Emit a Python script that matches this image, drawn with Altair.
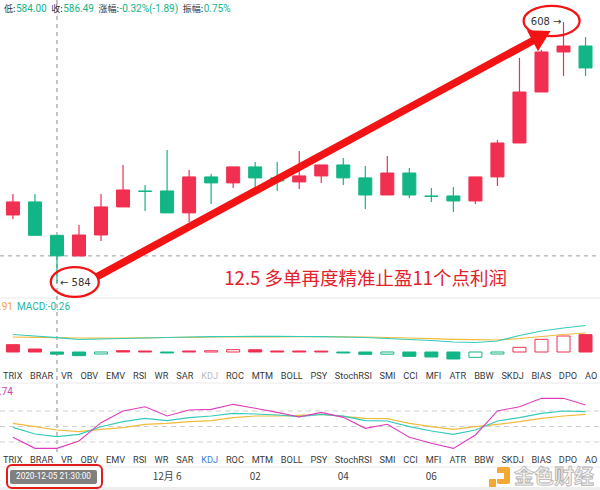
import altair as alt
import pandas as pd

# ---------------- data (30-minute candles, first bar 2020-12-05 20:30) ----------------
opens  = [590.25, 591.45, 588.38, 586.48, 588.41, 590.99, 592.46, 592.46, 590.44, 593.75,
          593.20, 594.67, 593.66, 593.29, 593.84, 594.85, 593.66, 592.09, 594.11, 592.00,
          592.00, 591.54, 593.75, 596.87, 601.56, 605.24, 605.79]
highs  = [592.18, 592.18, 588.41, 589.33, 592.18, 594.85, 593.01, 596.23, 594.39, 594.02,
          594.67, 595.13, 595.13, 596.14, 594.85, 595.49, 594.76, 595.68, 594.57, 592.74,
          592.83, 593.75, 597.15, 604.69, 605.43, 608.00, 606.62]
lows   = [589.89, 588.38, 584.00, 586.48, 587.86, 590.99, 590.62, 590.44, 589.61, 591.26,
          592.74, 592.83, 592.46, 592.64, 593.20, 593.01, 590.80, 592.09, 591.82, 591.45,
          590.53, 591.26, 592.92, 596.87, 601.56, 603.03, 603.03]
closes = [591.45, 588.38, 586.49, 588.41, 590.99, 592.55, 592.41, 590.44, 593.75, 593.20,
          594.67, 593.66, 593.38, 593.84, 594.85, 593.66, 592.09, 594.11, 592.09, 591.95,
          591.54, 593.75, 596.87, 601.56, 605.24, 605.79, 603.77]

macd_dif  = [2.10, 1.92, 1.72, 1.50, 1.56, 1.62, 1.68, 1.74, 1.80, 1.84, 1.86, 1.88, 1.88, 1.86,
             1.84, 1.80, 1.74, 1.62, 1.50, 1.38, 1.20, 1.14, 1.32, 1.98, 2.52, 2.88, 3.18]
macd_dea  = [1.80, 1.76, 1.72, 1.68, 1.66, 1.68, 1.70, 1.74, 1.76, 1.80, 1.80, 1.82, 1.82, 1.84,
             1.84, 1.82, 1.80, 1.74, 1.68, 1.60, 1.52, 1.48, 1.44, 1.62, 1.86, 2.10, 2.28]
macd_hist = [0.88, 0.36, -0.26, -0.44, -0.24, 0.16, 0.12, -0.12, 0.12, 0.15, 0.28, 0.27, 0.12,
             0.12, 0.11, -0.12, -0.28, -0.26, -0.52, -0.60, -0.84, -0.64, -0.24, 0.56, 1.52,
             1.92, 2.08]
macd_hist_hollow = [False, False, False, False, True, False, False, False, False, True, True,
                    False, False, False, False, False, False, True, False, False, False, True,
                    True, True, True, True, False]

kdj_k = [48.4, 35.5, 30.3, 34.9, 49.6, 59.3, 65.8, 61.3, 67.1, 70.3, 75.5, 74.2, 72.3, 69.0,
         73.5, 70.0, 61.3, 60.6, 49.6, 41.3, 34.9, 43.2, 60.6, 67.1, 75.5, 80.0, 78.7]
kdj_d = [56.1, 49.6, 43.2, 40.0, 44.5, 47.7, 54.2, 56.1, 59.3, 61.3, 67.1, 70.3, 70.3, 71.6,
         73.5, 69.5, 65.8, 65.1, 56.1, 49.6, 44.5, 49.6, 54.2, 59.3, 65.8, 70.3, 73.5]
kdj_j = [29.1, 7.7, 7.7, 21.9, 57.4, 80.0, 88.3, 70.3, 81.9, 83.2, 92.9, 85.2, 77.4, 68.4,
         77.4, 67.7, 46.5, 54.2, 29.1, 17.4, 7.7, 33.6, 80.0, 88.3, 104.5, 104.5, 91.6]

indicator_tabs = ["TRIX", "BRAR", "VR", "OBV", "EMV", "RSI", "WR", "SAR", "KDJ", "ROC", "MTM",
                  "BOLL", "PSY", "StochRSI", "SMI", "CCI", "MFI", "ATR", "BBW", "SKDJ", "BIAS",
                  "DPO", "AO"]
time_tick_index = [7, 11, 15, 19]
time_tick_label = ["12月 6", "02", "04", "06"]
crosshair_index = 2
crosshair_date = "2020-12-05 21:30:00"
header_labels = ["低:", "收:", "涨幅:", "振幅:"]
header_values = ["584.00", "586.49", "-0.32%(-1.89)", "0.75%"]
low_label, high_label = "← 584", "608 →"
annotation_text = "12.5 多单再度精准止盈11个点利润"

# ---------------- styling / layout ----------------
RED, GREEN = "#f12f50", "#12b585"
TEAL, YELLOW, MAGENTA = "#35cbbb", "#f2bb3c", "#e03cbe"
ANN = "#f21414"
CJK = "Noto Sans CJK SC"

X = alt.Scale(domain=[-0.36, 26.43], nice=False, zero=False)
PRICE = alt.Scale(domain=[582.8, 610.02], range=[296, 0], nice=False, zero=False)
MACD = alt.Scale(domain=[-3.72, 6.48], range=[383, 298], nice=False, zero=False)
KDJ = alt.Scale(domain=[-28.4, 134.2], range=[467, 383], nice=False, zero=False)

# Roboto advance widths (em) for laying out tab/header text
CW = {"A": .652, "B": .622, "C": .651, "D": .655, "E": .568, "F": .553, "I": .272, "J": .552,
      "K": .627, "L": .539, "M": .873, "O": .688, "P": .631, "R": .616, "S": .593, "T": .597,
      "V": .636, "W": .887, "X": .627, "Y": .601, "t": .327, "o": .570, "c": .523, "h": .552,
      "0": .562, "1": .562, "2": .562, "3": .562, "4": .562, "5": .562, "6": .562, "7": .562,
      "8": .562, "9": .562, ".": .263, "%": .732, "(": .342, ")": .348, "-": .276, ":": .242}


def tw(s):
    return sum(CW.get(ch, .56) for ch in s)


def xq(f="i"):
    return alt.X(f"{f}:Q", scale=X, axis=None)


def yq(f, s):
    return alt.Y(f"{f}:Q", scale=s, axis=None)


def px(f):
    return alt.X(f"{f}:Q", scale=None, axis=None)


def py(f):
    return alt.Y(f"{f}:Q", scale=None, axis=None)


one = pd.DataFrame({"a": [0]})
n = len(opens)
cdf = pd.DataFrame({"i": range(n), "o": opens, "h": highs, "l": lows, "c": closes})
cdf["col"] = [RED if c > o else GREEN for o, c in zip(opens, closes)]

layers = []

# separators
sep = pd.DataFrame({"y": [298, 383, 467]})
layers.append(alt.Chart(sep).mark_rule(color="#e9e9e9", strokeWidth=1).encode(
    y=py("y"), x=alt.value(0), x2=alt.value(600)))
layers.append(alt.Chart(one).mark_rect(color="#eeeeee").encode(
    x=alt.value(0), x2=alt.value(600), y=alt.value(487), y2=alt.value(490)))

# crosshair
layers.append(alt.Chart(pd.DataFrame({"p": [closes[crosshair_index]]})).mark_rule(
    color="#999999", strokeDash=[4, 4], strokeWidth=1).encode(
    y=yq("p", PRICE), x=alt.value(0), x2=alt.value(600)))
layers.append(alt.Chart(pd.DataFrame({"i": [crosshair_index]})).mark_rule(
    color="#888888", strokeDash=[4, 4], strokeWidth=1).encode(
    x=xq(), y=alt.value(0), y2=alt.value(452)))

# candles
layers.append(alt.Chart(cdf).mark_rule(strokeWidth=1.2).encode(
    x=xq(), y=yq("l", PRICE), y2="h:Q", color=alt.Color("col:N", scale=None)))
layers.append(alt.Chart(cdf).mark_bar(size=13, strokeWidth=1).encode(
    x=xq(), y=yq("o", PRICE), y2="c:Q",
    fill=alt.Fill("col:N", scale=None), stroke=alt.Stroke("col:N", scale=None)))

# header line: label (CJK, grey) followed by value (green)
hrows, cur = [], 4.0
LAB_FS, VAL_FS = 9.0, 10.0
for lab, val in zip(header_labels, header_values):
    hrows.append({"x": cur, "t": lab, "col": "#333333", "f": CJK, "fs": LAB_FS})
    cur += (len(lab) - 1) * LAB_FS + 3.0
    hrows.append({"x": cur, "t": val, "col": GREEN, "f": "Roboto", "fs": VAL_FS})
    cur += tw(val) * VAL_FS + 4.5
hdf = pd.DataFrame(hrows)
for f, fs in [(CJK, LAB_FS), ("Roboto", VAL_FS)]:
    layers.append(alt.Chart(hdf[hdf["f"] == f]).mark_text(
        align="left", baseline="middle", font=f, fontSize=fs).encode(
        x=px("x"), y=alt.value(9), text="t:N", color=alt.Color("col:N", scale=None)))

# low/high labels
layers.append(alt.Chart(pd.DataFrame({"i": [crosshair_index], "p": [min(lows)], "t": [low_label]})).mark_text(
    align="left", baseline="middle", dx=3, fontSize=10, font="DejaVu Sans", color="#333333").encode(
    x=xq(), y=yq("p", PRICE), text="t:N"))
hi_i = highs.index(max(highs))
layers.append(alt.Chart(pd.DataFrame({"i": [hi_i], "p": [max(highs)], "t": [high_label]})).mark_text(
    align="right", baseline="middle", dx=-2, fontSize=10, font="DejaVu Sans", color="#333333").encode(
    x=xq(), y=yq("p", PRICE), text="t:N"))

# annotation: ellipses, arrow, text
layers.append(alt.Chart(pd.DataFrame({"i": [2.81], "p": [584.09]})).mark_point(
    shape="M -1 0 A 1 0.62 0 1 1 1 0 A 1 0.62 0 1 1 -1 0 Z", size=2304, filled=False,
    stroke=ANN, strokeWidth=2.3, opacity=1).encode(x=xq(), y=yq("p", PRICE)))
layers.append(alt.Chart(pd.DataFrame({"i": [24.46], "p": [608.09]})).mark_point(
    shape="M -1 0 A 1 0.54 0 1 1 1 0 A 1 0.54 0 1 1 -1 0 Z", size=3136, filled=False,
    stroke=ANN, strokeWidth=2.3, opacity=1).encode(x=xq(), y=yq("p", PRICE)))
layers.append(alt.Chart(pd.DataFrame({"i": [3.79], "p": [584.55], "i2": [23.9], "p2": [606.6]})).mark_rule(
    color=ANN, strokeWidth=7.5, strokeCap="butt").encode(
    x=xq(), y=yq("p", PRICE), x2="i2:Q", y2="p2:Q"))
layers.append(alt.Chart(pd.DataFrame({"i": [24.0], "p": [606.72]})).mark_point(
    shape="triangle-up", size=560, filled=True, color=ANN, opacity=1, angle=62).encode(
    x=xq(), y=yq("p", PRICE)))
layers.append(alt.Chart(pd.DataFrame({"i": [9.6], "p": [584.37], "t": [annotation_text]})).mark_text(
    align="left", baseline="middle", font=CJK, fontSize=18.5, color="#e3222a").encode(
    x=xq(), y=yq("p", PRICE), text="t:N"))

# MACD panel
mdf = pd.DataFrame({"i": range(n), "h": macd_hist, "z": [0] * n, "dif": macd_dif, "dea": macd_dea})
mdf["st"] = [RED if v > 0 else GREEN for v in macd_hist]
mdf["fl"] = ["#ffffff" if hol else s for hol, s in zip(macd_hist_hollow, mdf["st"])]
layers.append(alt.Chart(mdf).mark_bar(size=13, strokeWidth=1).encode(
    x=xq(), y=yq("h", MACD), y2="z:Q",
    fill=alt.Fill("fl:N", scale=None), stroke=alt.Stroke("st:N", scale=None)))
layers.append(alt.Chart(mdf).mark_line(color=YELLOW, strokeWidth=1.2).encode(x=xq(), y=yq("dea", MACD)))
layers.append(alt.Chart(mdf).mark_line(color=TEAL, strokeWidth=1.2).encode(x=xq(), y=yq("dif", MACD)))
mh = pd.DataFrame({"x": [-1, 17], "t": [".91", "MACD:-0.26"], "col": ["#f0a23a", "#22b89f"]})
layers.append(alt.Chart(mh).mark_text(align="left", baseline="middle", fontSize=10, font="Roboto").encode(
    x=px("x"), y=alt.value(307), text="t:N", color=alt.Color("col:N", scale=None)))

# KDJ panel
layers.append(alt.Chart(pd.DataFrame({"v": [20, 50, 80]})).mark_rule(
    color="#cfcfcf", strokeDash=[5, 4], strokeWidth=1).encode(
    y=yq("v", KDJ), x=alt.value(0), x2=alt.value(600)))
kdf = pd.DataFrame({"i": range(n), "k": kdj_k, "d": kdj_d, "j": kdj_j})
layers.append(alt.Chart(kdf).mark_line(color=YELLOW, strokeWidth=1.2).encode(x=xq(), y=yq("d", KDJ)))
layers.append(alt.Chart(kdf).mark_line(color=TEAL, strokeWidth=1.2).encode(x=xq(), y=yq("k", KDJ)))
layers.append(alt.Chart(kdf).mark_line(color=MAGENTA, strokeWidth=1.1).encode(x=xq(), y=yq("j", KDJ)))
layers.append(alt.Chart(pd.DataFrame({"t": [".74"]})).mark_text(
    align="left", baseline="middle", fontSize=10, font="Roboto", color="#d93ab5").encode(
    x=alt.value(-1), y=alt.value(392), text="t:N"))

# indicator tab rows
em = 8.85
widths = [tw(s) * em for s in indicator_tabs]
gap = (597 - 3.3 - sum(widths)) / (len(indicator_tabs) - 1)
centers, cur = [], 3.3
for w in widths:
    centers.append(cur + w / 2)
    cur += w + gap
rows = []
for yy, kdj_col in [(376, "#bbbbbb"), (460, "#3d7fd8")]:
    for s, cx in zip(indicator_tabs, centers):
        rows.append({"x": cx, "y": yy, "t": s, "col": kdj_col if s == "KDJ" else "#3a3a3a"})
layers.append(alt.Chart(pd.DataFrame(rows)).mark_text(
    align="center", baseline="middle", fontSize=9.2, font="Roboto").encode(
    x=px("x"), y=py("y"), text="t:N", color=alt.Color("col:N", scale=None)))

# time row
layers.append(alt.Chart(one).mark_rect(color="#808080", cornerRadius=2).encode(
    x=alt.value(10), x2=alt.value(97), y=alt.value(470), y2=alt.value(484)))
layers.append(alt.Chart(pd.DataFrame({"t": [crosshair_date]})).mark_text(
    align="center", baseline="middle", fontSize=8.2, font="Roboto", color="#ffffff").encode(
    x=alt.value(53.5), y=alt.value(477), text="t:N"))
layers.append(alt.Chart(one).mark_rect(fillOpacity=0, stroke="#e01c1c", strokeWidth=2, cornerRadius=5).encode(
    x=alt.value(7), x2=alt.value(102), y=alt.value(465), y2=alt.value(488)))
layers.append(alt.Chart(pd.DataFrame({"i": time_tick_index, "t": time_tick_label})).mark_text(
    align="center", baseline="middle", fontSize=10, font=CJK, color="#444444").encode(
    x=xq(), y=alt.value(477), text="t:N"))

# watermark
layers.append(alt.Chart(one).mark_rect(color="#f2a833", cornerRadius=2).encode(
    x=alt.value(497), x2=alt.value(510), y=alt.value(467), y2=alt.value(484)))
layers.append(alt.Chart(one).mark_rect(color="#ffffff").encode(
    x=alt.value(497), x2=alt.value(504), y=alt.value(473), y2=alt.value(479)))
layers.append(alt.Chart(one).mark_rect(color="#f2a833", cornerRadius=1).encode(
    x=alt.value(489), x2=alt.value(496), y=alt.value(479), y2=alt.value(487)))
layers.append(alt.Chart(pd.DataFrame({"t": ["金色财经"]})).mark_text(
    align="left", baseline="middle", fontSize=20, font=CJK, fontWeight="bold",
    fill="#f3f3f3", stroke="#b3b3b3", strokeWidth=0.8).encode(
    x=alt.value(514), y=alt.value(478), text="t:N"))

chart = alt.layer(*layers).resolve_scale(y="independent").properties(
    width=600, height=490, padding=0, background="#ffffff",
    autosize=alt.AutoSizeParams(type="none"),
).configure_view(stroke=None)

chart.save("out.html", embed_options={"renderer": "svg", "actions": False})
